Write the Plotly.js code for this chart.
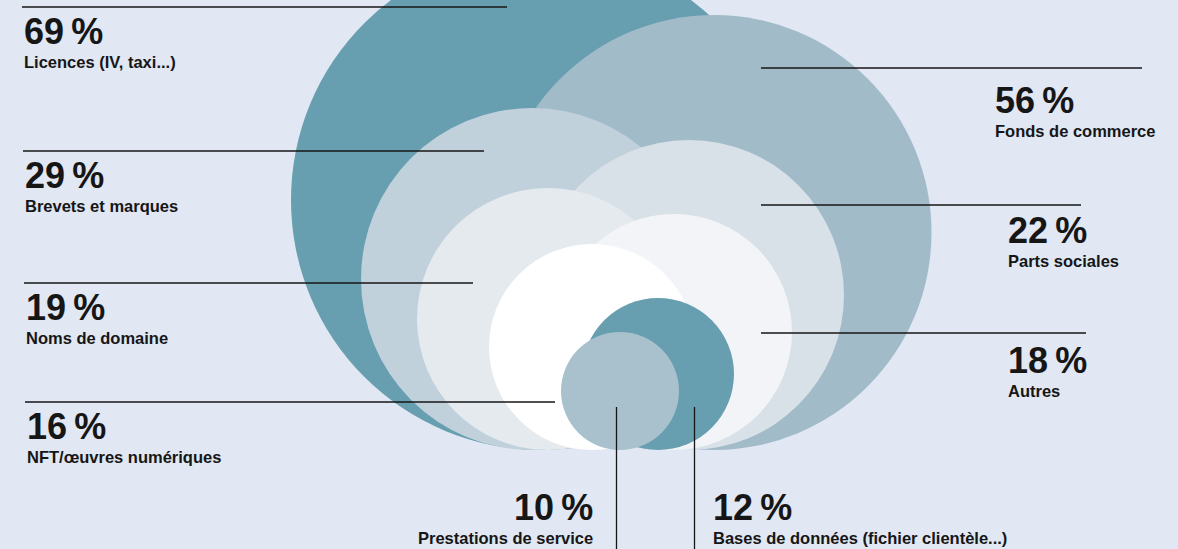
<!DOCTYPE html>
<html>
<head>
<meta charset="utf-8">
<script src="https://cdn.plot.ly/plotly-3.0.1.min.js"></script>
<style>
html,body{margin:0;padding:0;background:#e1e7f3;}
#chart{width:1178px;height:549px;}
</style>
</head>
<body>
<div id="chart"></div>
<script>
// ---- data ----
const categories = [
  "Licences (IV, taxi...)",
  "Fonds de commerce",
  "Brevets et marques",
  "Parts sociales",
  "Noms de domaine",
  "Autres",
  "NFT/œuvres numériques",
  "Bases de données (fichier clientèle...)",
  "Prestations de service"
];
const values = [69, 56, 29, 22, 19, 18, 16, 12, 10];

// ---- design (positions / sizes / styles, in pixel units of the axes) ----
const bubbleCx = [541, 714, 532, 689, 548, 674, 592, 658, 620];
const bubbleCy = [200, 232.5, 279, 295, 319, 332, 347, 374, 391];
const bubbleR  = [250, 217.5, 171, 155, 131, 118, 103, 76, 59];
const bubbleColor = ["#679eb0", "#a2bbc8", "#c1d1dc", "#d9e1e8", "#e5eaef",
                     "#f2f4f7", "#ffffff", "#679eb0", "#a8c1cd"];

const textX     = [22, 993, 23, 1006, 24, 1006, 25, 711, 595];
const textBase  = [44, 113, 188, 243, 320, 373, 439, 520, 520];
const textAlign = ["left","left","left","left","left","left","left","left","right"];

// leader lines: [x0, y0, x1, y1]
const leaders = [
  [22, 7, 507, 7],
  [761, 68, 1142, 68],
  [23, 151, 484, 151],
  [761, 205, 1081, 205],
  [24, 283, 473, 283],
  [761, 333, 1086, 333],
  [25, 402, 555, 402],
  [694.5, 407, 694.5, 549],
  [616.5, 407, 616.5, 549]
];

const FONT = "'Liberation Sans Narrow', 'Arial Narrow', 'Liberation Sans', Arial, sans-serif";
const NUM_SIZE = 36, LAB_SIZE = 16.5;
const INK = "#161616";

const shapes = [];
values.forEach((v, i) => {
  shapes.push({
    type: "circle", xref: "x", yref: "y", layer: "below",
    x0: bubbleCx[i] - bubbleR[i], x1: bubbleCx[i] + bubbleR[i],
    y0: bubbleCy[i] - bubbleR[i], y1: bubbleCy[i] + bubbleR[i],
    fillcolor: bubbleColor[i], line: {width: 0}
  });
});
leaders.forEach(l => {
  shapes.push({type: "line", xref: "x", yref: "y", x0: l[0], y0: l[1], x1: l[2], y1: l[3],
    line: {color: INK, width: 1.3}});
});

const annotations = [];
values.forEach((v, i) => {
  annotations.push({
    xref: "x", yref: "y", x: textX[i], y: textBase[i] - 0.35 * NUM_SIZE,
    xanchor: textAlign[i], yanchor: "middle", showarrow: false,
    text: "<b>" + v + "\u2009%</b>",
    font: {family: FONT, size: NUM_SIZE, color: INK}
  });
  annotations.push({
    xref: "x", yref: "y", x: textX[i], y: textBase[i] + 24 - 0.35 * LAB_SIZE,
    xanchor: textAlign[i], yanchor: "middle", showarrow: false,
    text: "<b>" + categories[i] + "</b>",
    font: {family: FONT, size: LAB_SIZE, color: INK}
  });
});

const layout = {
  width: 1178, height: 549,
  margin: {l: 0, r: 0, t: 0, b: 0},
  paper_bgcolor: "#e1e7f3", plot_bgcolor: "#e1e7f3",
  xaxis: {range: [0, 1178], visible: false, fixedrange: true},
  yaxis: {range: [549, 0], visible: false, fixedrange: true},
  showlegend: false,
  shapes: shapes,
  annotations: annotations
};

Plotly.newPlot("chart", [{x: [], y: [], type: "scatter", mode: "markers", hoverinfo: "skip"}], layout,
  {displayModeBar: false, staticPlot: true});
</script>
</body>
</html>
